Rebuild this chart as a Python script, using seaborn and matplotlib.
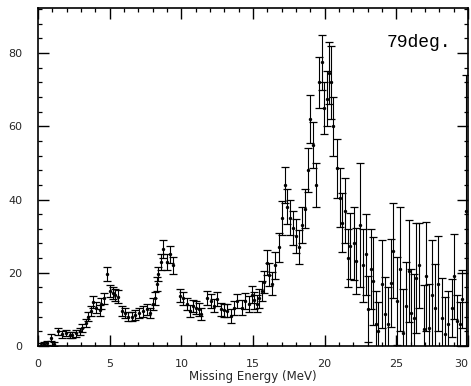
import numpy as np
import pandas as pd
import matplotlib
matplotlib.use("Agg")
import matplotlib.pyplot as plt
from matplotlib.ticker import MultipleLocator
import seaborn as sns

# Missing-energy spectrum at 79 degrees: bin centres (MeV), counts and errors
energy = [0.2, 0.4, 0.65, 0.9, 1.1, 1.37, 1.7, 1.95, 2.2, 2.4, 2.65, 2.9, 3.1, 3.35, 3.5,
          3.7, 3.86, 4.05, 4.3, 4.4, 4.6, 4.8, 5.0, 5.2, 5.4, 5.55, 5.86, 6.1, 6.3, 6.55,
          6.8, 7.07, 7.3, 7.6, 7.8, 8.05, 8.16, 8.3, 8.4, 8.56, 8.75, 9.0, 9.2, 9.45, 9.9,
          10.1, 10.4, 10.6, 10.8, 11.0, 11.2, 11.4, 11.8, 12.1, 12.3, 12.5, 12.8, 13.0, 13.2,
          13.5, 13.7, 13.9, 14.2, 14.45, 14.7, 14.9, 15.1, 15.26, 15.45, 15.6, 15.8, 15.96,
          16.1, 16.3, 16.55, 16.8, 17.0, 17.2, 17.4, 17.6, 17.8, 18.0, 18.2, 18.4, 18.6,
          18.86, 19.0, 19.2, 19.4, 19.6, 19.8, 19.96, 20.15, 20.3, 20.45, 20.6, 20.85, 21.07,
          21.2, 21.4, 21.6, 21.8, 22.05, 22.2, 22.47, 22.7, 22.85, 23.05, 23.2, 23.35, 23.55,
          23.75, 24.0, 24.2, 24.45, 24.6, 24.8, 25.07, 25.26, 25.5, 25.7, 25.85, 26.05, 26.2,
          26.4, 26.6, 26.9, 27.05, 27.3, 27.5, 27.7, 27.9, 28.2, 28.4, 28.6, 28.9, 29.05,
          29.2, 29.45, 29.6, 29.85]
counts = [0.3, 0.6, 0.8, 2.3, 0.5, 4.0, 3.2, 3.5, 3.0, 3.0, 3.5, 4.0, 5.0, 6.3, 8.0,
          9.5, 12.0, 10.5, 9.7, 11.5, 13.0, 19.7, 15.0, 14.5, 14.0, 13.5, 9.5, 9.0, 8.0, 8.0,
          8.5, 9.0, 9.5, 10.0, 9.0, 11.5, 13.0, 17.0, 19.7, 23.0, 26.5, 23.0, 25.0, 22.0, 13.7,
          13.0, 11.5, 9.6, 11.0, 10.5, 10.0, 8.8, 13.0, 12.3, 11.0, 12.8, 10.0, 9.8, 9.6,
          8.2, 10.5, 12.3, 10.5, 12.3, 11.5, 14.0, 12.5, 11.5, 13.0, 15.0, 17.5, 22.8,
          19.5, 17.0, 22.0, 27.0, 35.0, 44.0, 38.0, 35.0, 32.3, 30.0, 27.0, 33.0, 37.5,
          48.0, 62.0, 55.0, 44.0, 72.0, 77.5, 65.0, 67.5, 74.5, 72.0, 60.0, 48.5, 40.5,
          33.7, 37.0, 24.0, 27.4, 28.0, 23.3, 33.0, 22.0, 25.0, 10.0, 21.0, 17.8, 6.0,
          4.0, 17.0, 8.8, 6.0, 17.3, 26.0, 12.3, 21.0, 3.6, 11.0, 20.5, 9.0, 7.7,
          18.6, 22.0, 4.6, 19.0, 5.0, 14.0, 10.4, 17.0, 7.7, 3.3, 6.0, 10.4, 19.0,
          6.8, 6.0, 12.8, 37.0]
errors = [0.4, 0.4, 0.5, 0.9, 0.5, 1.0, 0.9, 0.9, 0.9, 0.9, 1.0, 1.0, 1.1, 1.2, 1.3,
          1.4, 1.6, 1.5, 1.4, 1.5, 1.6, 2.0, 1.7, 1.7, 1.7, 1.7, 1.4, 1.4, 1.3, 1.3,
          1.4, 1.4, 1.5, 1.5, 1.4, 1.6, 1.7, 1.9, 2.0, 2.2, 2.4, 2.2, 2.3, 2.2, 1.8,
          1.8, 1.7, 1.6, 1.7, 1.7, 1.7, 1.6, 1.9, 1.9, 1.8, 1.9, 1.8, 1.8, 1.8,
          1.8, 1.9, 2.0, 2.0, 2.1, 2.1, 2.3, 2.3, 2.3, 2.5, 2.7, 3.0, 3.4,
          3.2, 3.2, 3.6, 4.0, 4.6, 5.0, 4.8, 4.8, 4.7, 4.6, 4.6, 5.0, 5.3,
          6.0, 6.5, 6.3, 6.0, 7.0, 7.5, 7.0, 7.5, 8.5, 10.0, 8.0, 8.0, 8.0,
          8.0, 9.0, 8.0, 9.0, 10.0, 9.0, 17.0, 10.0, 11.0, 9.0, 11.0, 12.0, 9.0,
          8.0, 12.0, 10.0, 10.0, 12.0, 13.0, 12.0, 17.0, 12.0, 12.0, 14.0, 12.0, 12.0,
          15.0, 11.5, 12.0, 15.0, 12.0, 15.0, 12.0, 13.0, 11.0, 10.0, 9.0, 8.0, 11.5,
          7.0, 6.0, 8.0, 37.0]

x_ticks = [0, 5, 10, 15, 20, 25, 30]
y_ticks = [0, 20, 40, 60, 80]

df = pd.DataFrame({"energy": energy, "counts": counts, "err": errors})

sns.set_theme(style="ticks")
plt.rcParams["font.family"] = ["DejaVu Sans"]

fig = plt.figure(figsize=(4.71, 3.86), dpi=100)
ax = fig.add_axes([0.0807, 0.1036, 0.9129, 0.8755])

ax.errorbar(df["energy"], df["counts"], yerr=df["err"], fmt="none",
            ecolor="black", elinewidth=0.8, capsize=2.6, capthick=0.9, zorder=2)
sns.scatterplot(data=df, x="energy", y="counts", ax=ax, color="black",
                s=6, edgecolor="black", linewidth=0, zorder=3, legend=False)

ax.set_xlim(0, 30)
ax.set_ylim(0, 92.3)
ax.set_xticks(x_ticks)
ax.set_xticklabels([str(t) for t in x_ticks])
ax.set_yticks(y_ticks)
ax.set_yticklabels([str(t) for t in y_ticks])
ax.xaxis.set_minor_locator(MultipleLocator(1))
ax.yaxis.set_minor_locator(MultipleLocator(4))

ax.tick_params(which="both", direction="in", top=True, right=True, color="black")
ax.tick_params(which="major", length=8, width=1.0, labelsize=8)
ax.tick_params(which="minor", length=3, width=0.9)
ax.tick_params(axis="x", which="major", pad=9)
ax.tick_params(axis="y", which="major", pad=11)
for lbl in ax.get_xticklabels() + ax.get_yticklabels():
    lbl.set_fontweight("medium")
# keep the last x label inside the figure edge
ax.get_xticklabels()[-1].set_horizontalalignment("right")

for side in ["left", "right", "top", "bottom"]:
    ax.spines[side].set_visible(True)
    ax.spines[side].set_color("black")
    ax.spines[side].set_linewidth(1.2)

ax.set_xlabel("Missing Energy (MeV)", fontsize=8.5, fontweight="medium", labelpad=1)
ax.set_ylabel("")

ax.text(24.3, 83, "79deg.", fontsize=13, family=["Liberation Mono", "DejaVu Sans Mono"],
        ha="left", va="center", color="black")

fig.savefig("out.png", dpi=100, facecolor="white")
